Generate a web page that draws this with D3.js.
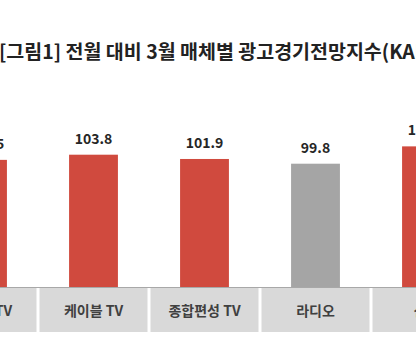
<!DOCTYPE html>
<html>
<head>
<meta charset="utf-8">
<script src="https://cdn.jsdelivr.net/npm/d3@7"></script>
<style>
  body { margin: 0; background: #fff; }
  svg { display: block; font-family: "Noto Sans CJK KR", "Noto Sans", sans-serif; }
</style>
</head>
<body>
<div id="viz"></div>
<script>
var categories = ["지상파 TV", "케이블 TV", "종합편성 TV", "라디오", "신문"];
var values = [101.5, 103.8, 101.9, 99.8, 107.5];
var title = "[그림1] 전월 대비 3월 매체별 광고경기전망지수(KAI)";

var width = 416,
    height = 362;

var svg = d3.select("#viz")
  .append("svg")
    .attr("width", width)
    .attr("height", height);

var x = d3.scaleBand()
    .domain(categories)
    .range([-73, 482])
    .paddingInner(0.56)
    .paddingOuter(0.28);

var y = d3.scaleLinear()
    .domain([45, 105])
    .range([287, 152]);

var step = x.step();

// title
svg.append("text")
    .attr("x", -1)
    .attr("y", 59)
    .attr("fill", "#222")
    .style("font-size", "19.5px")
    .style("font-weight", "bold")
    .style("white-space", "pre")
    .text(title);

// category boxes
svg.selectAll(".box")
    .data(categories)
  .enter().append("rect")
    .attr("class", "box")
    .attr("x", function(d) { return x(d) + x.bandwidth() / 2 - step / 2 + 1.5; })
    .attr("y", 288)
    .attr("width", step - 3)
    .attr("height", 44)
    .attr("fill", "#d9d9d9");

svg.selectAll(".cat")
    .data(categories)
  .enter().append("text")
    .attr("class", "cat")
    .attr("x", function(d) { return x(d) + x.bandwidth() / 2; })
    .attr("y", 316)
    .attr("text-anchor", "middle")
    .attr("fill", "#404040")
    .style("font-size", "14px")
    .style("font-weight", "bold")
    .text(function(d) { return d; });

// bars
svg.selectAll(".bar")
    .data(values)
  .enter().append("rect")
    .attr("class", "bar")
    .attr("x", function(d, i) { return x(categories[i]); })
    .attr("y", function(d) { return y(d); })
    .attr("width", x.bandwidth())
    .attr("height", function(d) { return y.range()[0] - y(d); })
    .attr("fill", function(d, i) { return categories[i] == "라디오" ? "#a5a5a5" : "#d04a3e"; });

svg.append("line")
    .attr("x1", 0).attr("x2", width)
    .attr("y1", 287.5).attr("y2", 287.5)
    .attr("stroke", "#a8a8a8");

svg.selectAll(".val")
    .data(values)
  .enter().append("text")
    .attr("class", "val")
    .attr("x", function(d, i) { return x(categories[i]) + x.bandwidth() / 2 + (i == 0 ? 3 : 0); })
    .attr("y", function(d) { return y(d) - 11; })
    .attr("text-anchor", "middle")
    .attr("fill", "#262626")
    .style("font-size", "14px")
    .style("font-weight", "bold")
    .text(function(d) { return d.toFixed(1); });
</script>
</body>
</html>
